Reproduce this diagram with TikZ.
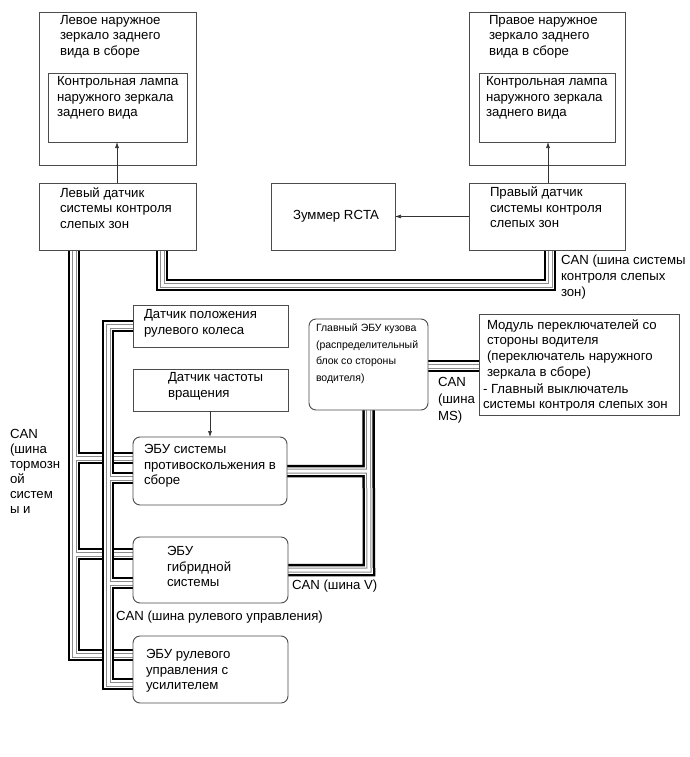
\documentclass[tikz,border=0pt]{standalone}
\usepackage{fontspec}
\setmainfont{Liberation Sans}
\usetikzlibrary{arrows.meta}
\pgfdeclarelayer{back}
\pgfdeclarelayer{bus}
\pgfsetlayers{back,bus,main}
\newcommand\drawcanbus[1]{%
  \draw[line width=12.5pt, draw=black, line join=miter] #1;
  \draw[line width=7.5pt, draw=white, line join=miter] #1;
  \draw[line width=5pt, draw=black!45, line join=miter] #1;
  \draw[line width=3pt, draw=white, line join=miter] #1;
}
\begin{document}
\begin{tikzpicture}[x=1pt,y=-1pt,
  box/.style={draw=black!70, line width=0.9pt, fill=white, inner sep=0pt, outer sep=0pt, anchor=north west},
  rbox/.style={box, rounded corners=7pt},
  txt/.style={anchor=north west, inner sep=0pt, outer sep=0pt, align=left, font=\fontsize{13.2}{15.6}\selectfont},
  stxt/.style={txt, font=\fontsize{10.5}{16.6}\selectfont},
  arr/.style={draw=black!80, line width=0.6pt, -{Latex[length=6pt,width=4pt]}}
]
\begin{pgfonlayer}{back}
\fill[white] (0,0) rectangle (690,757);
\end{pgfonlayer}
\useasboundingbox (0,0) rectangle (690,757);

% boxes
\node[box, minimum width=157, minimum height=153] (lmir) at (39,12) {};
\node[box, minimum width=139, minimum height=69] (llamp) at (48,73) {};
\node[box, minimum width=157, minimum height=67] (lsens) at (39,183) {};
\node[box, minimum width=156, minimum height=153] (rmir) at (469,12) {};
\node[box, minimum width=136, minimum height=69] (rlamp) at (479,73) {};
\node[box, minimum width=156, minimum height=67] (rsens) at (469,183) {};
\node[box, minimum width=124, minimum height=67] (buzz) at (271,183) {};
\node[box, minimum width=155, minimum height=42] (steer) at (133,305) {};
\node[box, minimum width=155, minimum height=42] (speed) at (133,369) {};
\node[rbox, minimum width=154, minimum height=68] (esp) at (133,437) {};
\node[rbox, minimum width=155, minimum height=66] (hyb) at (133,537) {};
\node[rbox, minimum width=155, minimum height=67] (eps) at (133,636) {};
\node[rbox, minimum width=119, minimum height=91] (body) at (309,319) {};
\node[box, minimum width=200, minimum height=101] (sw) at (479,314) {};

% texts
\node[txt] (tlmir) at (60,15) {Левое наружное\\зеркало заднего\\вида в сборе};
\node[txt] (tllamp) at (57,76.5) {Контрольная лампа\\наружного зеркала\\заднего вида};
\node[txt] (tlsens) at (60,187.5) {Левый датчик\\системы контроля\\слепых зон};
\node[txt] (trmir) at (489,15) {Правое наружное\\зеркало заднего\\вида в сборе};
\node[txt] (trlamp) at (486,76.5) {Контрольная лампа\\наружного зеркала\\заднего вида};
\node[txt] (trsens) at (490,187) {Правый датчик\\системы контроля\\слепых зон};
\node[txt, anchor=center] (tbuzz) at (336,216) {Зуммер RCTA};
\node[txt] (tsteer) at (144,309.5) {Датчик положения\\рулевого колеса};
\node[txt] (tspeed) at (168,372.5) {Датчик частоты\\вращения};
\node[txt] (tesp) at (144,444.5) {ЭБУ системы\\противоскольжения в\\сборе};
\node[txt] (thyb) at (167,546.5) {ЭБУ\\гибридной\\системы};
\node[txt] (teps) at (146,649.5) {ЭБУ рулевого\\управления с\\усилителем};
\node[stxt] (tbody) at (316,324) {Главный ЭБУ кузова\\(распределительный\\блок со стороны\\водителя)};
\node[txt] (tsw) at (487,319.5) {Модуль переключателей со\\стороны водителя\\(переключатель наружного\\зеркала в сборе)};
\node[txt] (tsw2) at (483,383.5) {- Главный выключатель\\системы контроля слепых зон};

% bus labels
\node[txt, font=\fontsize{13.2}{16.2}\selectfont] (lbsm) at (561,254.5) {CAN (шина системы\\контроля слепых\\зон)};
\node[txt, font=\fontsize{13.2}{17}\selectfont] (lms) at (438,377.5) {CAN\\(шина\\MS)};
\node[txt, font=\fontsize{13.2}{15}\selectfont] (lbrake) at (10,429.5) {CAN\\(шина\\тормозн\\ой\\систем\\ы и};
\node[txt] (lv) at (292,579.5) {CAN (шина V)};
\node[txt] (lsteer) at (116,610.5) {CAN (шина рулевого управления)};

% arrows
\draw[arr] (117,0 |- lsens.north) -- (117,0 |- llamp.south);
\draw[arr] (548,0 |- rsens.north) -- (548,0 |- rlamp.south);
\draw[arr] (rsens.west) -- (buzz.east);
\draw[arr] (210,0 |- speed.south) -- (210,0 |- esp.north);

% CAN buses
\begin{pgfonlayer}{bus}
% blind spot monitor bus
\drawcanbus{(162,0 |- lsens.south) -- (162,285) -- (550,285) -- (550,0 |- rsens.south)}
% brake bus
\drawcanbus{(74,0 |- lsens.south) -- (74,655) -- (eps.west |- 0,655)
    (74,458) -- (esp.west |- 0,458)
    (74,554) -- (hyb.west |- 0,554)}
% steering bus
\drawcanbus{(steer.west |- 0,326) -- (108,326) -- (108,684) -- (eps.west |- 0,684)
    (108,478) -- (esp.west |- 0,478)
    (108,583) -- (hyb.west |- 0,583)}
% V bus
\drawcanbus{(body.south) -- (369,570) -- (hyb.east |- 0,570)
    (369,471) -- (esp.east |- 0,471)}
% MS bus
\drawcanbus{(body.east |- 0,366) -- (sw.west |- 0,366)}
\end{pgfonlayer}
\end{tikzpicture}
\end{document}
